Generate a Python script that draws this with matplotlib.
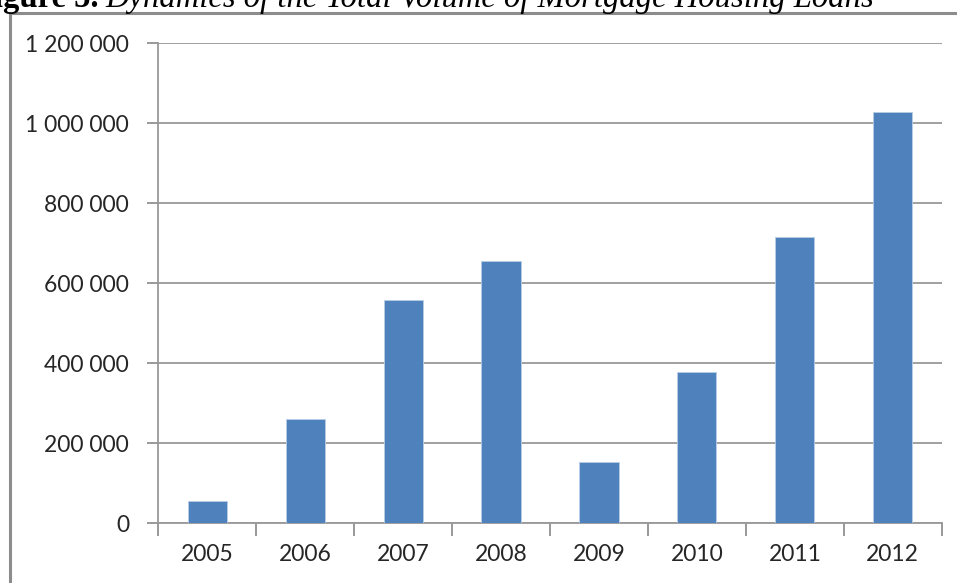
#!/usr/bin/env python3
"""plot.py - mortgage housing loans bar chart"""

import matplotlib
matplotlib.use("Agg")
import matplotlib.pyplot as plt
from matplotlib.ticker import FuncFormatter, MultipleLocator
from matplotlib.patches import Rectangle

# data
years = ["2005", "2006", "2007", "2008", "2009", "2010", "2011", "2012"]
loans = [55000, 261000, 557000, 655000, 153000, 379000, 716000, 1027000]

bar_color = "#4F81BD"
grid_color = "#A0A0A0"
text_color = "#262626"

fig = plt.figure(figsize=(9.57, 5.83), dpi=100)
ax = fig.add_axes([158.3 / 957, 59.7 / 583, 783.4 / 957, 480.3 / 583])

x = list(range(len(years)))
ax.bar(x, loans, width=0.4, color=bar_color, edgecolor="#B9CDE5",
       linewidth=0.6, zorder=3)

ax.set_xlim(-0.5, len(years) - 0.5)
ax.set_ylim(0, 1200000)
ax.yaxis.set_major_locator(MultipleLocator(200000))
ax.yaxis.set_major_formatter(
    FuncFormatter(lambda v, p: f"{int(v):,}".replace(",", " ")))

# category ticks sit between the bars, labels in the middle
ax.set_xticks([i - 0.5 for i in range(len(years) + 1)])
ax.set_xticklabels([])
ax.set_xticks(x, minor=True)
ax.set_xticklabels(years, minor=True)
ax.tick_params(axis="x", which="major", length=9, color="#888888", width=1.2)
ax.tick_params(axis="x", which="minor", length=0, pad=15,
               labelsize=16.5, labelcolor=text_color)
ax.tick_params(axis="y", length=8, color="#888888", width=1.2, pad=13,
               labelsize=16.5, labelcolor=text_color)
for lab in ax.get_xticklabels(minor=True) + ax.get_yticklabels():
    lab.set_fontfamily("Lato")

ax.grid(axis="y", color=grid_color, linewidth=1.4, zorder=0)
for side in ["top", "right"]:
    ax.spines[side].set_visible(False)
ax.spines["left"].set_color("#999999")
ax.spines["left"].set_linewidth(1.3)
ax.spines["bottom"].set_color("#999999")
ax.spines["bottom"].set_linewidth(1.3)

# outer frame of the chart (runs off the right and bottom edge)
frame = Rectangle((10 / 957, -0.05), 1.0, (583 - 13) / 583 + 0.05,
                  transform=fig.transFigure, fill=False,
                  edgecolor="#8C8C8C", linewidth=2.2)
fig.patches.append(frame)

# caption, cut off at the top and left like the scan
fig.text(99 / 957, 1 - 7 / 583, "Figure 5.", fontsize=23.5,
         fontweight="bold", family="Liberation Serif",
         va="baseline", ha="right")
fig.text(105 / 957, 1 - 7 / 583,
         "Dynamics of the Total Volume of Mortgage Housing Loans",
         fontsize=23.5, style="italic", family="Liberation Serif",
         va="baseline", ha="left")

fig.savefig("out.png", dpi=100)
